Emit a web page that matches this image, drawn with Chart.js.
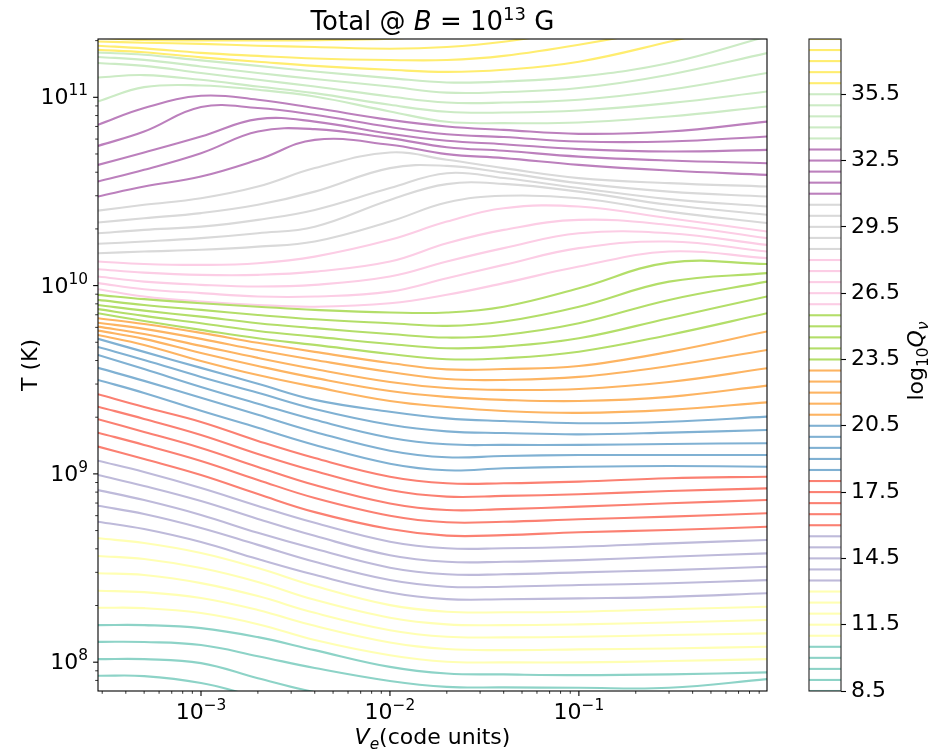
<!DOCTYPE html>
<html>
<head>
<meta charset="utf-8">
<script src="https://cdn.jsdelivr.net/npm/chart.js@4.4.1/dist/chart.umd.min.js"></script>
<style>
  html, body { margin: 0; padding: 0; background: #fff; }
  #wrap { position: relative; width: 930px; height: 751px; }
  #main { position: absolute; left: 0; top: 0; }
  #cbar { position: absolute; left: 790px; top: 0; }
</style>
</head>
<body>
<div id="wrap">
  <canvas id="main" width="930" height="751"></canvas>
  <canvas id="cbar" width="140" height="751"></canvas>
</div>
<script>
// V_e sample points (code units) where each contour was read
const vE = [2.85e-4, 5e-4, 1e-3, 2e-3, 4e-3, 1e-2, 2e-2, 4e-2, 0.1, 0.3, 0.99];

// log10 T along each contour, one row per level (0.5 apart, lowest first)
const tealRows = [ // 8.5 .. 10.5
  null,
  [7.928, 7.926, 7.889, 7.815, 7.745, 7.700, 7.666, 7.639, 7.613, 7.613, 7.613],
  [8.016, 8.016, 7.995, 7.915, 7.841, 7.772, 7.745, 7.719, 7.692, 7.692, 7.692],
  [8.108, 8.107, 8.091, 8.032, 7.969, 7.900, 7.869, 7.866, 7.864, 7.864, 7.910],
  [8.197, 8.197, 8.181, 8.133, 8.064, 7.975, 7.940, 7.935, 7.931, 7.935, 7.946]
];
const yellowRows = [ // 11 .. 13
  [8.289, 8.287, 8.261, 8.202, 8.118, 8.037, 8.002, 7.999, 7.999, 8.006, 8.016],
  [8.379, 8.372, 8.341, 8.277, 8.193, 8.105, 8.070, 8.064, 8.068, 8.073, 8.082],
  [8.472, 8.463, 8.420, 8.351, 8.262, 8.170, 8.135, 8.132, 8.135, 8.144, 8.153],
  [8.564, 8.548, 8.500, 8.426, 8.331, 8.236, 8.201, 8.197, 8.201, 8.211, 8.224],
  [8.658, 8.633, 8.580, 8.500, 8.405, 8.303, 8.268, 8.265, 8.268, 8.281, 8.294]
];
const lavenderRows = [ // 13.5 .. 15.5
  [8.746, 8.707, 8.638, 8.548, 8.464, 8.370, 8.335, 8.334, 8.339, 8.347, 8.366],
  [8.831, 8.787, 8.713, 8.623, 8.533, 8.436, 8.401, 8.401, 8.410, 8.419, 8.436],
  [8.914, 8.861, 8.782, 8.687, 8.602, 8.502, 8.467, 8.467, 8.477, 8.489, 8.507],
  [8.994, 8.936, 8.856, 8.761, 8.671, 8.568, 8.533, 8.533, 8.542, 8.560, 8.578],
  [9.070, 9.010, 8.925, 8.830, 8.740, 8.640, 8.605, 8.605, 8.613, 8.631, 8.649]
];
const redRows = [ // 16 .. 18
  [9.145, 9.079, 8.994, 8.893, 8.797, 8.707, 8.672, 8.675, 8.690, 8.702, 8.719],
  [9.219, 9.154, 9.069, 8.968, 8.872, 8.778, 8.743, 8.746, 8.759, 8.773, 8.791],
  [9.290, 9.223, 9.138, 9.037, 8.941, 8.843, 8.808, 8.813, 8.826, 8.844, 8.861],
  [9.357, 9.292, 9.207, 9.106, 9.015, 8.914, 8.879, 8.883, 8.892, 8.909, 8.923],
  [9.423, 9.355, 9.276, 9.175, 9.084, 8.985, 8.950, 8.950, 8.959, 8.977, 8.985]
];
const blueRows = [ // 18.5 .. 20.5
  [9.499, 9.430, 9.335, 9.245, 9.154, 9.054, 9.019, 9.030, 9.038, 9.042, 9.038],
  [9.563, 9.494, 9.404, 9.314, 9.223, 9.123, 9.088, 9.095, 9.100, 9.100, 9.100],
  [9.632, 9.557, 9.462, 9.373, 9.287, 9.192, 9.157, 9.154, 9.154, 9.159, 9.163],
  [9.674, 9.605, 9.515, 9.431, 9.345, 9.261, 9.226, 9.217, 9.210, 9.219, 9.233],
  [9.717, 9.648, 9.563, 9.479, 9.393, 9.330, 9.295, 9.281, 9.269, 9.277, 9.304]
];
const orangeRows = [ // 21 .. 23
  [9.738, 9.685, 9.600, 9.525, 9.462, 9.387, 9.355, 9.334, 9.324, 9.340, 9.380],
  [9.761, 9.717, 9.642, 9.573, 9.510, 9.440, 9.409, 9.393, 9.387, 9.409, 9.469],
  [9.782, 9.743, 9.680, 9.616, 9.557, 9.488, 9.456, 9.446, 9.451, 9.488, 9.561],
  [9.803, 9.770, 9.717, 9.658, 9.605, 9.541, 9.504, 9.499, 9.515, 9.573, 9.658],
  [9.827, 9.796, 9.749, 9.696, 9.648, 9.589, 9.555, 9.557, 9.573, 9.648, 9.756]
];
const greenRows = [ // 23.5 .. 25.5
  [9.853, 9.812, 9.765, 9.720, 9.685, 9.637, 9.609, 9.614, 9.649, 9.738, 9.853],
  [9.875, 9.839, 9.800, 9.759, 9.729, 9.690, 9.667, 9.676, 9.720, 9.827, 9.942],
  [9.897, 9.867, 9.835, 9.800, 9.774, 9.743, 9.724, 9.738, 9.800, 9.924, 10.021],
  [9.924, 9.897, 9.871, 9.844, 9.821, 9.800, 9.786, 9.809, 9.888, 10.021, 10.066],
  [9.951, 9.928, 9.906, 9.888, 9.871, 9.857, 9.857, 9.888, 9.986, 10.122, 10.115]
];
const pinkRows = [ // 26 .. 28
  [9.981, 9.942, 9.915, 9.897, 9.888, 9.906, 9.951, 10.013, 10.101, 10.181, 10.146],
  [10.013, 9.981, 9.960, 9.942, 9.942, 9.968, 10.039, 10.110, 10.199, 10.234, 10.181],
  [10.048, 10.021, 10.004, 9.995, 10.004, 10.048, 10.128, 10.199, 10.278, 10.278, 10.216],
  [10.087, 10.069, 10.057, 10.057, 10.074, 10.128, 10.225, 10.296, 10.349, 10.322, 10.252],
  [10.128, 10.115, 10.110, 10.119, 10.154, 10.243, 10.340, 10.411, 10.420, 10.358, 10.287]
];
const grayRows = [ // 28.5 .. 30.5
  [10.172, 10.181, 10.190, 10.207, 10.234, 10.340, 10.441, 10.477, 10.464, 10.393, 10.332],
  [10.222, 10.234, 10.252, 10.278, 10.313, 10.455, 10.539, 10.540, 10.499, 10.429, 10.376],
  [10.278, 10.296, 10.313, 10.349, 10.402, 10.518, 10.597, 10.571, 10.518, 10.459, 10.420],
  [10.335, 10.358, 10.385, 10.429, 10.499, 10.624, 10.636, 10.600, 10.544, 10.499, 10.473],
  [10.398, 10.429, 10.464, 10.526, 10.624, 10.707, 10.668, 10.624, 10.571, 10.544, 10.526]
];
const purpleRows = [ // 31 .. 33
  [10.473, 10.526, 10.579, 10.668, 10.774, 10.748, 10.698, 10.677, 10.641, 10.611, 10.588],
  [10.553, 10.615, 10.703, 10.818, 10.831, 10.783, 10.735, 10.716, 10.685, 10.664, 10.650],
  [10.641, 10.707, 10.792, 10.884, 10.871, 10.806, 10.769, 10.751, 10.725, 10.712, 10.721],
  [10.742, 10.818, 10.948, 10.943, 10.907, 10.842, 10.804, 10.789, 10.765, 10.765, 10.792],
  [10.854, 10.943, 11.008, 10.987, 10.943, 10.880, 10.845, 10.827, 10.806, 10.818, 10.871]
];
const mintRows = [ // 33.5 .. 35.5
  [10.978, 11.054, 11.063, 11.040, 11.004, 10.925, 10.870, 10.863, 10.866, 10.898, 10.951],
  [11.105, 11.118, 11.093, 11.057, 11.022, 10.960, 10.923, 10.919, 10.930, 10.969, 11.031],
  [11.182, 11.167, 11.129, 11.093, 11.057, 11.004, 10.972, 10.972, 10.987, 11.040, 11.129],
  [11.214, 11.199, 11.164, 11.129, 11.097, 11.057, 11.025, 11.028, 11.049, 11.120, 11.235],
  [11.238, 11.226, 11.196, 11.167, 11.137, 11.102, 11.079, 11.084, 11.110, 11.182, 11.323]
];
const goldRows = [ // 36 .. 38
  [11.252, 11.239, 11.212, 11.189, 11.167, 11.146, 11.135, 11.146, 11.189, 11.295, 11.422],
  [11.274, 11.260, 11.236, 11.220, 11.206, 11.198, 11.198, 11.220, 11.279, 11.369, 11.491],
  [11.296, 11.290, 11.284, 11.274, 11.267, 11.258, 11.267, 11.295, 11.359, 11.454, 11.571],
  [11.316, 11.304, 11.302, 11.302, 11.303, 11.311, 11.332, 11.359, 11.412, 11.465, 11.518],
  null
];

const levels = [8.5, 9, 9.5, 10, 10.5, 11, 11.5, 12, 12.5, 13, 13.5, 14, 14.5, 15, 15.5,
  16, 16.5, 17, 17.5, 18, 18.5, 19, 19.5, 20, 20.5, 21, 21.5, 22, 22.5, 23, 23.5, 24, 24.5,
  25, 25.5, 26, 26.5, 27, 27.5, 28, 28.5, 29, 29.5, 30, 30.5, 31, 31.5, 32, 32.5, 33, 33.5,
  34, 34.5, 35, 35.5, 36, 36.5, 37, 37.5, 38];
const cbTicks = [8.5, 11.5, 14.5, 17.5, 20.5, 23.5, 26.5, 29.5, 32.5, 35.5];
const xMajor = [1e-3, 1e-2, 1e-1];
const xExp = [-3, -2, -1];
const yMajor = [1e8, 1e9, 1e10, 1e11];
const yExp = [8, 9, 10, 11];

// Set3 colormap, 5 levels per colour
const set3 = ['#8dd3c7', '#ffffb3', '#bebada', '#fb8072', '#80b1d3', '#fdb462',
  '#b3de69', '#fccde5', '#d9d9d9', '#bc80bd', '#ccebc5', '#ffed6f'];
const bands = [tealRows, yellowRows, lavenderRows, redRows, blueRows, orangeRows,
  greenRows, pinkRows, grayRows, purpleRows, mintRows, goldRows];

const FAM = "'DejaVu Sans', sans-serif";
const LW = 2.1;

function logTicks(min, max) {
  const out = [];
  for (let e = Math.floor(Math.log10(min)); e <= Math.ceil(Math.log10(max)); e++) {
    for (let m = 1; m <= 9; m++) {
      const v = m * Math.pow(10, e);
      if (v >= min && v <= max) out.push({ value: v, major: m === 1 });
    }
  }
  return out;
}

function drawRuns(ctx, runs, x, y, align) {
  let w = 0;
  runs.forEach(r => { ctx.font = r.font; r.w = ctx.measureText(r.t).width; w += r.w; });
  let cx = align === 'center' ? x - w / 2 : align === 'right' ? x - w : x;
  ctx.textAlign = 'left';
  ctx.textBaseline = 'alphabetic';
  runs.forEach(r => { ctx.font = r.font; ctx.fillText(r.t, cx, y + (r.dy || 0)); cx += r.w; });
}

function pow10Runs(exp) {
  return [
    { t: '10', font: `22px ${FAM}` },
    { t: String(exp).replace('-', '\u2212'), font: `15.4px ${FAM}`, dy: -9 }
  ];
}

const datasets = [];
bands.forEach((rows, bi) => {
  rows.forEach(row => {
    if (!row) return;
    datasets.push({
      data: row.map((lt, k) => ({ x: vE[k], y: Math.pow(10, lt) })),
      borderColor: set3[bi],
      borderWidth: LW,
      pointRadius: 0,
      fill: false,
      tension: 0.4
    });
  });
});

const axesDecor = {
  id: 'axesDecor',
  afterDraw(chart) {
    const { ctx, chartArea: a } = chart;
    const x = chart.scales.x, y = chart.scales.y;
    ctx.save();
    ctx.strokeStyle = '#000';
    ctx.fillStyle = '#000';

    ctx.lineWidth = 1.1;
    ctx.strokeRect(a.left, a.top, a.right - a.left, a.bottom - a.top);

    const line = (x1, y1, x2, y2, w) => {
      ctx.lineWidth = w;
      ctx.beginPath(); ctx.moveTo(x1, y1); ctx.lineTo(x2, y2); ctx.stroke();
    };
    x.ticks.forEach(t => {
      const px = x.getPixelForValue(t.value);
      line(px, a.bottom, px, a.bottom + (t.major ? 4.9 : 2.8), t.major ? 1.1 : 0.8);
    });
    y.ticks.forEach(t => {
      const py = y.getPixelForValue(t.value);
      line(a.left, py, a.left - (t.major ? 4.9 : 2.8), py, t.major ? 1.1 : 0.8);
    });

    xMajor.forEach((v, i) => drawRuns(ctx, pow10Runs(xExp[i]), x.getPixelForValue(v), a.bottom + 27.5, 'center'));
    yMajor.forEach((v, i) => drawRuns(ctx, pow10Runs(yExp[i]), a.left - 10, y.getPixelForValue(v) + 7, 'right'));

    const cx = (a.left + a.right) / 2;
    drawRuns(ctx, [
      { t: 'Total @ ', font: `26px ${FAM}` },
      { t: 'B', font: `italic 26px ${FAM}` },
      { t: ' = 10', font: `26px ${FAM}` },
      { t: '13', font: `18px ${FAM}`, dy: -10.5 },
      { t: ' G', font: `26px ${FAM}` }
    ], cx, 30, 'center');

    drawRuns(ctx, [
      { t: 'V', font: `italic 22px ${FAM}` },
      { t: 'e', font: `italic 15.4px ${FAM}`, dy: 4.5 },
      { t: '(code units)', font: `22px ${FAM}` }
    ], cx, 744, 'center');

    ctx.save();
    ctx.translate(37, (a.top + a.bottom) / 2);
    ctx.rotate(-Math.PI / 2);
    drawRuns(ctx, [{ t: 'T (K)', font: `22px ${FAM}` }], 0, 0, 'center');
    ctx.restore();

    ctx.restore();
  }
};

new Chart(document.getElementById('main'), {
  type: 'line',
  data: { datasets },
  options: {
    responsive: false,
    animation: false,
    events: [],
    layout: { padding: { left: 0, top: 39, right: 163, bottom: 0 } },
    plugins: { legend: { display: false }, tooltip: { enabled: false } },
    scales: {
      x: {
        type: 'logarithmic', min: 2.85e-4, max: 0.99,
        afterBuildTicks: s => { s.ticks = logTicks(s.min, s.max); },
        afterFit: s => { s.height = 60; },
        ticks: { display: false },
        grid: { display: false },
        border: { display: false }
      },
      y: {
        type: 'logarithmic', min: 7.03e7, max: 2.04e11,
        afterBuildTicks: s => { s.ticks = logTicks(s.min, s.max); },
        afterFit: s => { s.width = 98; },
        ticks: { display: false },
        grid: { display: false },
        border: { display: false }
      }
    }
  },
  plugins: [axesDecor]
});

const cbDecor = {
  id: 'cbDecor',
  afterDraw(chart) {
    const { ctx, chartArea: a } = chart;
    ctx.save();
    ctx.strokeStyle = '#222';
    ctx.lineWidth = 1.1;
    ctx.strokeRect(a.left, a.top, a.right - a.left, a.bottom - a.top);
    ctx.fillStyle = '#000';
    ctx.translate(133, 361);
    ctx.rotate(-Math.PI / 2);
    drawRuns(ctx, [
      { t: 'log', font: `22px ${FAM}` },
      { t: '10', font: `15.4px ${FAM}`, dy: 5 },
      { t: 'Q', font: `italic 22px ${FAM}` },
      { t: '\u03bd', font: `italic 15.4px ${FAM}`, dy: 5 }
    ], 0, 0, 'center');
    ctx.restore();
  }
};

new Chart(document.getElementById('cbar'), {
  type: 'line',
  data: {
    datasets: levels.map((lv, i) => ({
      data: [{ x: 0, y: lv }, { x: 1, y: lv }],
      borderColor: set3[Math.floor(i / 5)],
      borderWidth: LW,
      pointRadius: 0
    }))
  },
  options: {
    responsive: false,
    animation: false,
    events: [],
    layout: { padding: { left: 19, top: 39, right: 0, bottom: 60 } },
    plugins: { legend: { display: false }, tooltip: { enabled: false } },
    scales: {
      x: { type: 'linear', min: 0, max: 1, display: false },
      y: {
        type: 'linear', position: 'right', min: 8.5, max: 38,
        afterBuildTicks: s => { s.ticks = cbTicks.map(v => ({ value: v })); },
        afterFit: s => { s.width = 89; },
        ticks: {
          color: '#000', padding: 5, font: { family: FAM, size: 22 },
          callback: v => v.toFixed(1)
        },
        grid: { drawOnChartArea: false, tickLength: 5, tickColor: '#000', tickWidth: 1.1 },
        border: { display: false }
      }
    }
  },
  plugins: [cbDecor]
});
</script>
</body>
</html>
